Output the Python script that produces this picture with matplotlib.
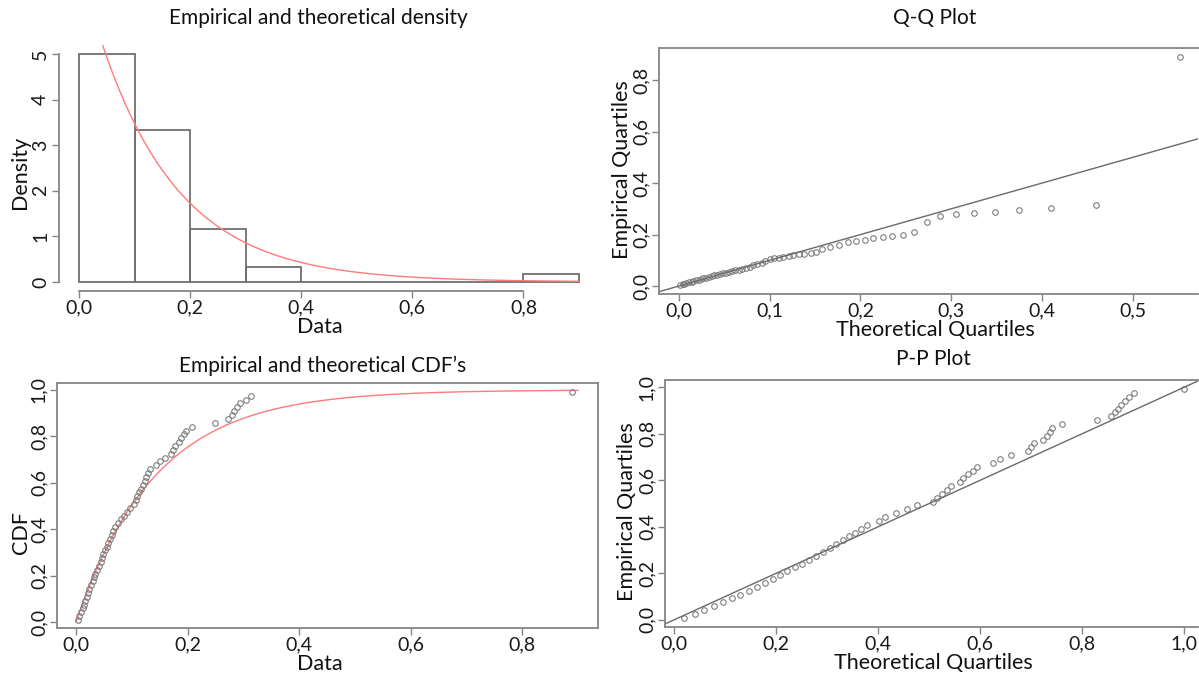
import numpy as np
import matplotlib
matplotlib.use("Agg")
import matplotlib.pyplot as plt
from matplotlib.ticker import FuncFormatter

# ---------------------------------------------------------------
# DATA
# ---------------------------------------------------------------
# sorted sample, n = 60
data = [0.003, 0.006, 0.009, 0.012, 0.014, 0.017, 0.019, 0.022, 0.024, 0.027,
        0.030, 0.033, 0.035, 0.038, 0.041, 0.044, 0.046, 0.049, 0.052, 0.055,
        0.058, 0.061, 0.064, 0.067, 0.070, 0.075, 0.080, 0.086, 0.091, 0.097,
        0.104, 0.107, 0.110, 0.113, 0.116, 0.120, 0.123, 0.126, 0.129, 0.133,
        0.143, 0.150, 0.159, 0.170, 0.174, 0.178, 0.185, 0.189, 0.193, 0.197,
        0.208, 0.250, 0.273, 0.280, 0.284, 0.289, 0.295, 0.304, 0.314, 0.890]

# theoretical quantiles used on the Q-Q plot
qq_theoretical = [0.001, 0.004, 0.006, 0.008, 0.011, 0.014, 0.016, 0.019, 0.022, 0.024,
                  0.027, 0.030, 0.033, 0.036, 0.039, 0.042, 0.045, 0.049, 0.052, 0.055,
                  0.059, 0.062, 0.066, 0.070, 0.074, 0.078, 0.082, 0.086, 0.091, 0.095,
                  0.100, 0.105, 0.110, 0.115, 0.121, 0.126, 0.132, 0.138, 0.145, 0.151,
                  0.158, 0.166, 0.176, 0.186, 0.195, 0.205, 0.214, 0.225, 0.235, 0.247,
                  0.259, 0.273, 0.288, 0.305, 0.325, 0.348, 0.375, 0.410, 0.460, 0.552]

# theoretical probabilities used on the P-P plot
pp_theoretical = [0.020, 0.041, 0.059, 0.078, 0.095, 0.113, 0.129, 0.146, 0.162, 0.178,
                  0.193, 0.208, 0.222, 0.236, 0.250, 0.265, 0.278, 0.292, 0.305, 0.317,
                  0.331, 0.343, 0.355, 0.367, 0.379, 0.402, 0.414, 0.435, 0.456, 0.476,
                  0.507, 0.516, 0.525, 0.534, 0.543, 0.560, 0.567, 0.577, 0.586, 0.594,
                  0.625, 0.639, 0.660, 0.693, 0.700, 0.706, 0.724, 0.731, 0.736, 0.741,
                  0.761, 0.829, 0.857, 0.865, 0.870, 0.876, 0.884, 0.891, 0.901, 1.000]

hist_breaks = [0.0, 0.1, 0.2, 0.3, 0.4, 0.5, 0.6, 0.7, 0.8, 0.9]
fit_rate = 7.0   # fitted exponential rate

# ---------------------------------------------------------------
# STYLE
# ---------------------------------------------------------------
plt.rcParams["font.family"] = ["Lato", "DejaVu Sans"]
W, H = 1199, 675
GREY = "#858585"
PT_COL = "#7d7d7d"
RED = "#ff7a7a"
TICK_FS = 14
LAB_FS = 15.5
TITLE_FS = 15

n = len(data)
ranks = np.arange(1, n + 1)
emp_p = (ranks - 0.5) / n

comma = FuncFormatter(lambda v, pos: f"{v:.1f}".replace(".", ","))


def px_axes(fig, left, top, right, bottom):
    return fig.add_axes([left / W, 1 - bottom / H, (right - left) / W, (bottom - top) / H])


def style_axes(ax):
    for s in ax.spines.values():
        s.set_color(GREY)
        s.set_linewidth(1.3)
    ax.tick_params(direction="out", length=5, width=1, color=GREY,
                   labelsize=TICK_FS, labelcolor="#1a1a1a")
    ax.tick_params(axis="x", pad=1)
    ax.tick_params(axis="y", pad=2)
    for lab in ax.get_yticklabels():
        lab.set_rotation(90)
        lab.set_va("center")


def ftext(fig, x, y, s, size, rot=0):
    fig.text(x / W, 1 - y / H, s, fontsize=size, ha="center", va="center",
             rotation=rot, color="#111111")


fig = plt.figure(figsize=(W / 100, H / 100), dpi=100)

# ── Empirical and theoretical density ──
ax1 = px_axes(fig, 59, 45, 599, 291)
ax1.hist(data, bins=hist_breaks, density=True, fill=False,
         edgecolor="#707070", linewidth=1.3)
xs = np.linspace(0, 0.9, 400)
ax1.plot(xs, fit_rate * np.exp(-fit_rate * xs), color=RED, lw=1.0)
ax1.set_xlim(-0.036, 0.936)
ax1.set_ylim(-0.2, 5.2)
ax1.set_xticks([0.0, 0.2, 0.4, 0.6, 0.8])
ax1.set_yticks([0, 1, 2, 3, 4, 5])
ax1.xaxis.set_major_formatter(comma)
ax1.spines["top"].set_visible(False)
ax1.spines["right"].set_visible(False)
ax1.spines["left"].set_bounds(0, 5)
ax1.spines["bottom"].set_bounds(0, 0.8)
style_axes(ax1)

# ── Q-Q plot ──
ax2 = px_axes(fig, 659, 48, 1198, 294)
ax2.plot(qq_theoretical, data, "o", mfc="none", mec=PT_COL, ms=4.0, mew=0.8)
ax2.axline((0, 0), slope=1, color="#6a6a6a", lw=1.0)
ax2.set_xlim(-0.022, 0.572)
ax2.set_ylim(-0.031, 0.925)
ax2.set_xticks([0.0, 0.1, 0.2, 0.3, 0.4, 0.5])
ax2.set_yticks([0.0, 0.2, 0.4, 0.6, 0.8])
ax2.xaxis.set_major_formatter(comma)
ax2.yaxis.set_major_formatter(comma)
ax2.spines["right"].set_visible(False)
style_axes(ax2)

# ── Empirical and theoretical CDF's ──
ax3 = px_axes(fig, 57, 383, 598, 628)
ax3.plot(xs, 1 - np.exp(-fit_rate * xs), color=RED, lw=1.0)
ax3.plot(data, emp_p, "o", mfc="none", mec=PT_COL, ms=4.0, mew=0.8)
ax3.set_xlim(-0.034, 0.936)
ax3.set_ylim(-0.026, 1.03)
ax3.set_xticks([0.0, 0.2, 0.4, 0.6, 0.8])
ax3.set_yticks([0.0, 0.2, 0.4, 0.6, 0.8, 1.0])
ax3.xaxis.set_major_formatter(comma)
ax3.yaxis.set_major_formatter(comma)
style_axes(ax3)

# ── P-P plot ──
ax4 = px_axes(fig, 665, 380, 1198, 627)
ax4.plot(pp_theoretical, emp_p, "o", mfc="none", mec=PT_COL, ms=4.0, mew=0.8)
ax4.axline((0, 0), slope=1, color="#6a6a6a", lw=1.0)
ax4.set_xlim(-0.018, 1.027)
ax4.set_ylim(-0.031, 1.031)
ax4.set_xticks([0.0, 0.2, 0.4, 0.6, 0.8, 1.0])
ax4.set_yticks([0.0, 0.2, 0.4, 0.6, 0.8, 1.0])
ax4.xaxis.set_major_formatter(comma)
ax4.yaxis.set_major_formatter(comma)
ax4.spines["right"].set_visible(False)
style_axes(ax4)

# titles and axis labels
ftext(fig, 318, 18, "Empirical and theoretical density", TITLE_FS)
ftext(fig, 935, 18, "Q-Q Plot", TITLE_FS)
ftext(fig, 323, 366, "Empirical and theoretical CDF\u2019s", TITLE_FS)
ftext(fig, 933, 359, "P-P Plot", TITLE_FS)

ftext(fig, 320, 327, "Data", LAB_FS)
ftext(fig, 935, 330, "Theoretical Quartiles", LAB_FS)
ftext(fig, 320, 664, "Data", LAB_FS)
ftext(fig, 933, 663, "Theoretical Quartiles", LAB_FS)

ftext(fig, 20, 172, "Density", LAB_FS, rot=90)
ftext(fig, 622, 170, "Empirical Quartiles", LAB_FS, rot=90)
ftext(fig, 21, 533, "CDF", LAB_FS, rot=90)
ftext(fig, 627, 512, "Empirical Quartiles", LAB_FS, rot=90)

fig.savefig("out.png", dpi=100)
